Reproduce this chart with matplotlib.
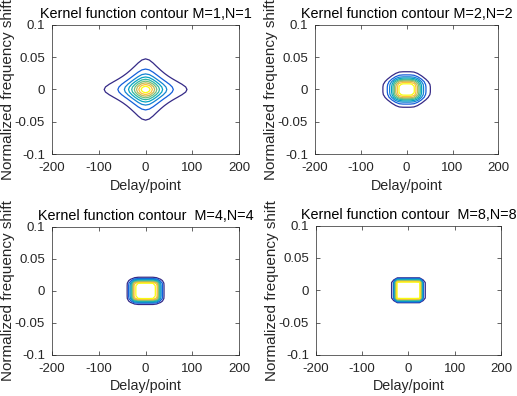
import numpy as np
import matplotlib
matplotlib.use("Agg")
import matplotlib.pyplot as plt
from matplotlib.colors import LinearSegmentedColormap

# Butterworth-type kernel parameters
M_values = [1, 2, 4, 8]
N_values = [1, 2, 4, 8]
tau_cut = 29.5        # delay half-width (points) where kernel falls to 1/2
theta_cut = 0.0158    # frequency-shift half-width
levels = [0.1, 0.2, 0.3, 0.4, 0.5, 0.6, 0.7, 0.8, 0.9]

titles = ["Kernel function contour M=1,N=1", "Kernel function contour M=2,N=2",
          "Kernel function contour  M=4,N=4", "Kernel function contour  M=8,N=8"]
xticks = [-200, -100, 0, 100, 200]
xticklabels = ["-200", "-100", "0", "100", "200"]
yticks = [-0.1, -0.05, 0, 0.05, 0.1]
yticklabels = ["-0.1", "-0.05", "0", "0.05", "0.1"]

# grid the kernel is sampled on
tau = np.arange(-200, 201, 8)
theta = np.arange(-0.1, 0.10001, 0.004)

# MATLAB parula-like map
parula = LinearSegmentedColormap.from_list("parula", [
    (0.0, (0.2081, 0.1663, 0.5292)),
    (0.125, (0.0800, 0.3700, 0.8600)),
    (0.25, (0.0780, 0.5208, 0.8280)),
    (0.375, (0.0231, 0.6383, 0.7645)),
    (0.5, (0.1802, 0.7178, 0.6383)),
    (0.625, (0.4420, 0.7482, 0.5033)),
    (0.75, (0.7590, 0.7292, 0.3400)),
    (0.875, (0.9940, 0.7453, 0.2359)),
    (1.0, (0.9763, 0.9831, 0.0538)),
])

plt.rcParams["font.family"] = ["Liberation Sans", "DejaVu Sans"]

fig = plt.figure(figsize=(5.17, 3.96), dpi=100)
positions = [
    [0.1006, 0.611, 0.362, 0.326],
    [0.609, 0.611, 0.355, 0.326],
    [0.1006, 0.104, 0.362, 0.323],
    [0.611, 0.104, 0.358, 0.326],
]

T, TH = np.meshgrid(tau, theta)
grey = "#262626"

for i, pos in enumerate(positions):
    ax = fig.add_axes(pos)
    m, n = M_values[i], N_values[i]
    Z = 1.0 / (1.0 + (T / tau_cut) ** (2 * m)) / (1.0 + (TH / theta_cut) ** (2 * n))
    ax.contour(T, TH, Z, levels=levels, cmap=parula, vmin=0.1, vmax=0.9, linewidths=0.9)
    ax.set_xlim(-200, 200)
    ax.set_ylim(-0.1, 0.1)
    ax.set_xticks(xticks)
    ax.set_xticklabels(xticklabels)
    ax.set_yticks(yticks)
    ax.set_yticklabels(yticklabels)
    ax.tick_params(direction="in", top=True, right=True, length=3, width=0.5,
                   labelsize=9.5, colors=grey, labelcolor=grey)
    ax.tick_params(axis="x", pad=6)
    ax.tick_params(axis="y", pad=5)
    for s in ax.spines.values():
        s.set_linewidth(0.5)
        s.set_color(grey)
    ax.set_title(titles[i], fontsize=10.4, pad=5, color="black")
    ax.set_xlabel("Delay/point", fontsize=10.3, color=grey, labelpad=3)
    ax.set_ylabel("Normalized frequency shift", fontsize=11, color=grey, labelpad=0)

fig.savefig("out.png", dpi=100)
